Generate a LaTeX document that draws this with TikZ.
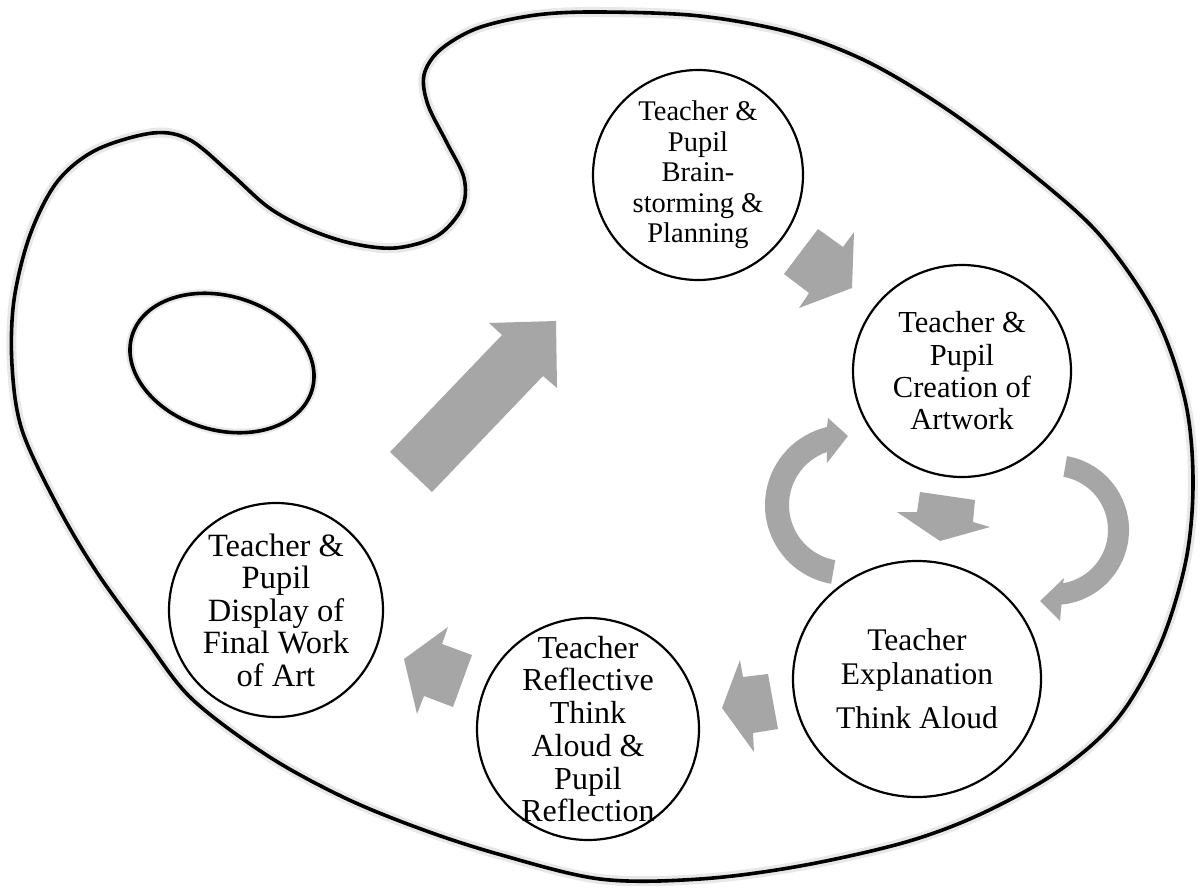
\documentclass[tikz,border=0pt]{standalone}
\usepackage{fontspec}
\setmainfont{Liberation Serif}
\usetikzlibrary{calc,shapes.geometric}
\definecolor{arrowfill}{RGB}{166,166,166}
\begin{document}
\begin{tikzpicture}[x=1pt,y=-1pt,
  ring/.style={draw=black, line width=2.2pt, fill=white, circle, inner sep=0pt},
  oval/.style={draw=black, line width=2.2pt, fill=white, ellipse, inner sep=0pt},
  stagetext/.style={align=center, inner sep=0pt, text=black},
  blockarrow/.style={fill=arrowfill, draw=none},
  rim/.style={draw=black, line width=3.6pt, line join=round},
  rimhaze/.style={draw=black!9, line width=10pt, line join=round},
  palettepath/.style={insert path={plot[smooth cycle, tension=0.55] coordinates {
    (153,133) (190,140) (230,173) (268,207) (306,228) (350,243) (395,248)
    (437,236) (462,208) (464,178) (447,143) (428,105) (424,75) (440,50)
    (478,28) (536,15) (600,12) (700,16) (792,33) (868,62) (945,108)
    (1021,165) (1098,233) (1155,315) (1185,400) (1193,480) (1186,560)
    (1160,645) (1118,718) (1060,770) (983,813) (906,842) (800,866)
    (700,879) (600,879) (498,854) (421,829) (345,798) (268,756)
    (192,699) (146,640) (96,571) (57,505) (22,430) (12,365) (14,300)
    (30,235) (57,182) (96,150)}}}]
\useasboundingbox (0,0) rectangle (1201,888);
\fill[white] (0,0) rectangle (1201,888);

% palette board and thumb hole
\path[rimhaze, palettepath];
\path[rim, palettepath];
\draw[rimhaze, line width=8pt, rotate around={-17:(222,363)}] (222,363) ellipse [x radius=94, y radius=67];
\draw[rim, rotate around={-17:(222,363)}] (222,363) ellipse [x radius=94, y radius=67];

% stage circles
\node[ring, minimum size=210pt] (plan) at (698,175) {};
\node[oval, minimum width=218pt, minimum height=212pt] (create) at (962,371) {};
\node[oval, minimum width=248pt, minimum height=236pt] (explain) at (917,679) {};
\node[ring, minimum size=222pt] (reflect) at (588,729) {};
\node[ring, minimum size=214pt] (display) at (276,610) {};

\node[stagetext, font=\fontsize{28.5}{30.5}\selectfont] (plan-t) at (plan)
  {Teacher \&\\Pupil\\Brain-\\storming \&\\Planning};
\node[stagetext, font=\fontsize{30.5}{32.3}\selectfont] (create-t) at (create)
  {Teacher \&\\Pupil\\Creation of\\Artwork};
\node[stagetext, font=\fontsize{31.5}{34}\selectfont] (explain-t) at (explain)
  {Teacher\\Explanation\\[10pt]Think Aloud};
\node[stagetext, font=\fontsize{32}{32.7}\selectfont] (reflect-t) at (reflect)
  {Teacher\\Reflective\\Think\\Aloud \&\\Pupil\\Reflection};
\node[stagetext, font=\fontsize{32.5}{32.5}\selectfont] (display-t) at (display)
  {Teacher \&\\Pupil\\Display of\\Final Work\\of Art};

% straight block arrows
\fill[blockarrow] (390,452) -- (502,335) -- (489,323) -- (556,321) -- (557,388) -- (543,376) -- (432,492) -- cycle;
\fill[blockarrow] (818,229) -- (843,247) -- (854,232) -- (852,288) -- (799,308) -- (809,293) -- (784,274) -- cycle;
\fill[blockarrow] (920,492) -- (975,500) -- (973,522) -- (990,527) -- (940,541) -- (897,512) -- (917,512) -- cycle;
\fill[blockarrow] (740,660) -- (743,677) -- (768,674) -- (778,729) -- (753,733) -- (754,752) -- (722,708) -- cycle;
\fill[blockarrow] (404,659) -- (448,627) -- (442,644) -- (472,655) -- (453,707) -- (424,696) -- (417,714) -- cycle;

% curved block arrows
\coordinate (upc) at (845,505);
\coordinate (downc) at (1054,530);
\fill[blockarrow] ($(upc)+(100:80)$) arc[start angle=100, end angle=257, radius=80]
  -- (828,418) -- (848,436) -- (827,463)
  -- ($(upc)+(251:56)$) arc[start angle=251, end angle=100, radius=56] -- cycle;
\fill[blockarrow] ($(downc)+(280:75)$) arc[start angle=280, end angle=444.3, radius=75]
  -- (1060,621) -- (1040,601) -- (1064,578)
  -- ($(downc)+(440.4:54)$) arc[start angle=440.4, end angle=280, radius=54] -- cycle;
\end{tikzpicture}
\end{document}
